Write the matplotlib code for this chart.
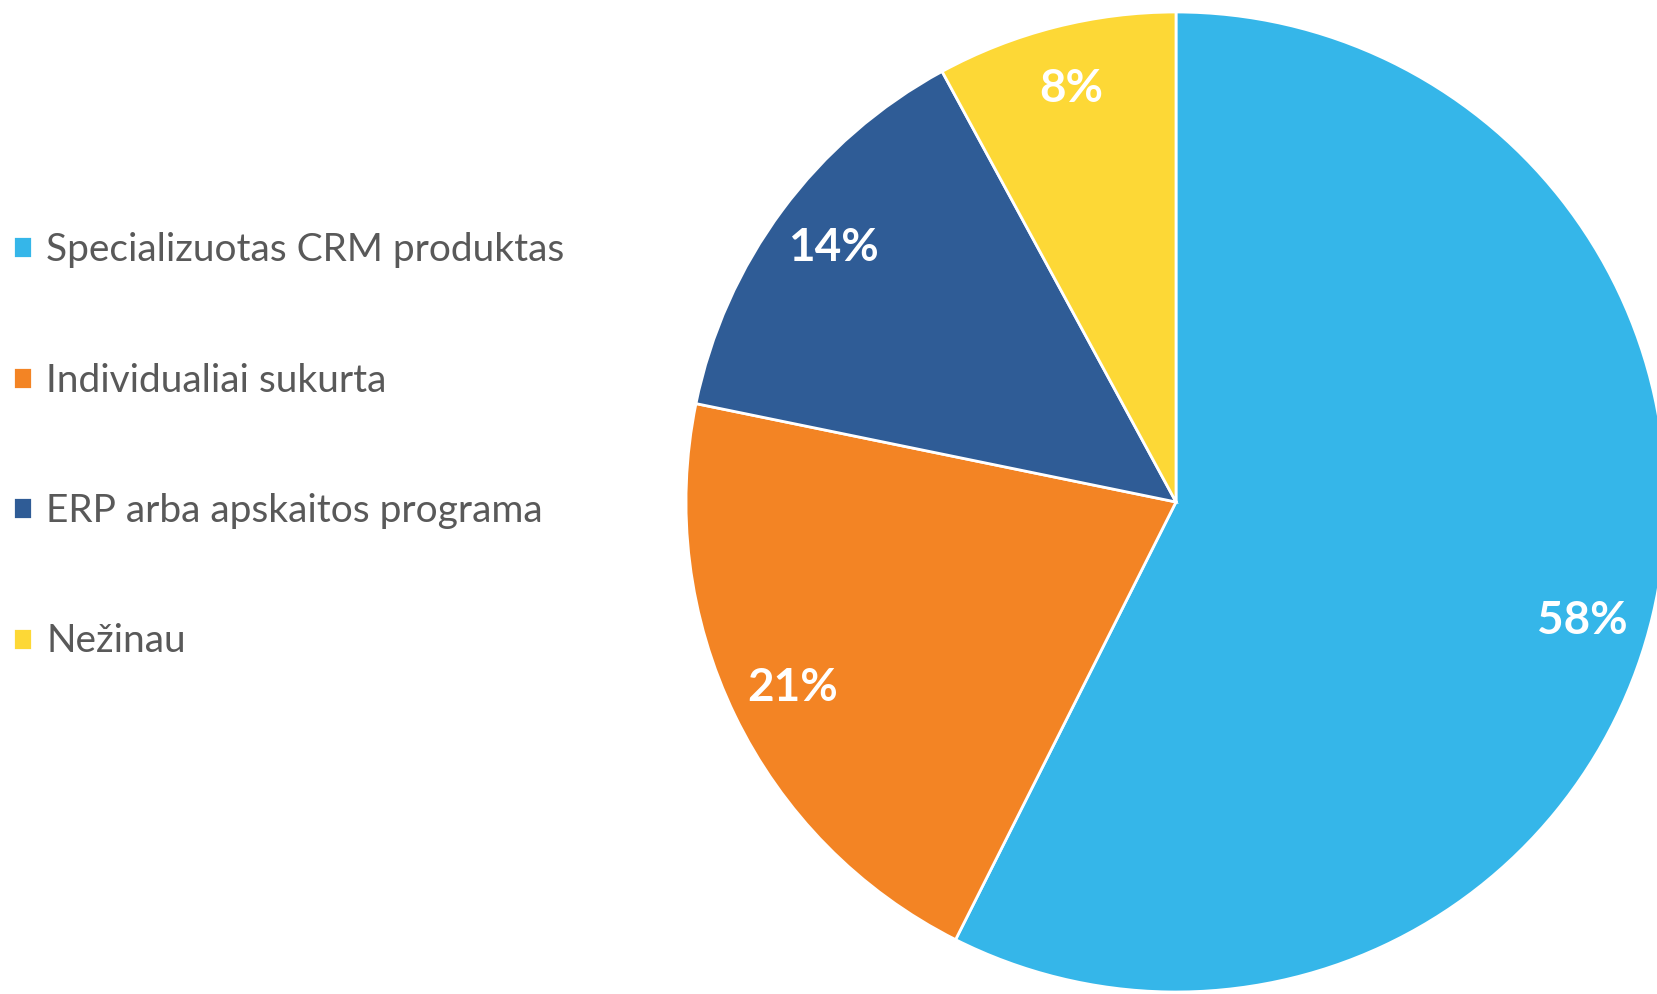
import matplotlib
matplotlib.use('Agg')
import matplotlib.pyplot as plt
import numpy as np

labels = ['Specializuotas CRM produktas', 'Individualiai sukurta',
          'ERP arba apskaitos programa', 'Nežinau']
values = [58, 21, 14, 8]
colors = ['#35B6E9', '#F38424', '#2F5C96', '#FDD836']

plt.rcParams['font.family'] = ['Lato', 'DejaVu Sans']

W, H = 1658, 994
fig = plt.figure(figsize=(W / 100, H / 100), dpi=100)
ax = fig.add_axes([0, 0, 1, 1])

# pie centre and radius in pixels
cx, cy, r = 1176, 502, 490

wedges, texts, autotexts = ax.pie(
    values, colors=colors, startangle=90, counterclock=False, radius=1,
    autopct=lambda p: '%d%%' % round(p * sum(values) / 100),
    pctdistance=0.87,
    wedgeprops=dict(edgecolor='white', linewidth=2),
    textprops=dict(color='white', fontsize=33, fontweight='bold'))

# nudge the big slice label a bit lower, like excel's best fit
w = wedges[0]
ang = np.deg2rad((w.theta1 + w.theta2) / 2 - 3)
autotexts[0].set_position((0.865 * np.cos(ang), 0.865 * np.sin(ang)))

ax.set_xlim(-cx / r, (W - cx) / r)
ax.set_ylim(-(H - cy) / r, cy / r)
ax.set_aspect('auto')
ax.axis('off')

leg = fig.legend(wedges, labels, loc='upper left',
                 bbox_to_anchor=(13 / W, 1 - 232 / H), frameon=False,
                 fontsize=28, labelcolor='#595959',
                 handlelength=0.5, handleheight=0.5, handletextpad=0.35,
                 labelspacing=2.43, borderpad=0, borderaxespad=0)

fig.savefig('out.png', dpi=100)
